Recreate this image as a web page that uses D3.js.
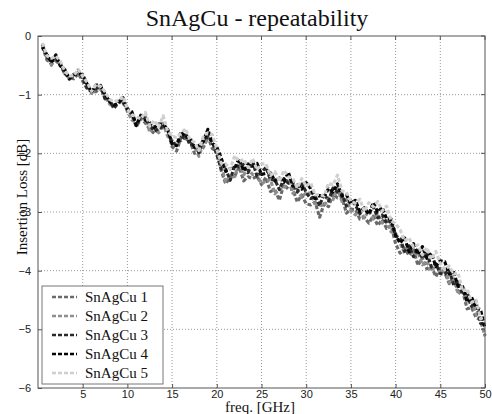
<!DOCTYPE html>
<html><head><meta charset="utf-8">
<script src="https://cdn.jsdelivr.net/npm/d3@7"></script>
<style>body{margin:0;background:#fff}</style>
</head><body><svg id="c" width="492" height="414"></svg>
<script>
const title = "SnAgCu - repeatability";
const xLabel = "freq. [GHz]";
const yLabel = "Insertion Loss [dB]";
const xTicks = [5,10,15,20,25,30,35,40,45,50];
const yTicks = [0,-1,-2,-3,-4,-5,-6];
const seriesNames = ["SnAgCu 1","SnAgCu 2","SnAgCu 3","SnAgCu 4","SnAgCu 5"];
const seriesColors = ["#6a6a6a","#8e8e8e","#2a2a2a","#050505","#cfcfcf"];
// frequency grid: 0.5 .. 50 GHz step 0.5
const freq = Array.from({length:100},(_,i)=> (i+1)*0.5);
const s1 = [-0.18,-0.41,-0.47,-0.43,-0.48,-0.65,-0.71,-0.73,-0.64,-0.77,
 -0.90,-0.95,-0.95,-0.87,-1.07,-1.10,-1.24,-1.11,-1.14,-1.26,
 -1.34,-1.55,-1.41,-1.48,-1.59,-1.66,-1.59,-1.56,-1.61,-1.89,
 -1.96,-1.73,-1.75,-1.78,-2.00,-1.97,-1.90,-1.72,-1.92,-1.96,
 -2.30,-2.52,-2.40,-2.39,-2.23,-2.47,-2.40,-2.43,-2.39,-2.53,
 -2.41,-2.65,-2.62,-2.80,-2.53,-2.61,-2.61,-2.83,-2.71,-2.86,
 -2.88,-2.83,-3.09,-2.86,-2.91,-2.69,-2.76,-2.75,-3.02,-2.95,
 -2.96,-3.12,-3.09,-3.19,-3.07,-3.23,-3.13,-3.28,-3.23,-3.54,
 -3.70,-3.62,-3.74,-3.64,-3.91,-3.78,-3.97,-3.93,-4.10,-3.96,
 -4.03,-4.22,-4.11,-4.36,-4.35,-4.65,-4.63,-4.80,-4.84,-5.10];
const s2 = [-0.20,-0.33,-0.50,-0.35,-0.51,-0.58,-0.74,-0.65,-0.66,-0.69,
 -0.84,-0.98,-0.88,-0.91,-1.03,-1.16,-1.20,-1.16,-1.06,-1.29,
 -1.43,-1.48,-1.44,-1.35,-1.64,-1.54,-1.65,-1.49,-1.71,-1.78,
 -1.86,-1.78,-1.66,-1.84,-1.88,-2.05,-1.83,-1.77,-1.80,-2.02,
 -2.22,-2.48,-2.40,-2.40,-2.16,-2.37,-2.27,-2.36,-2.36,-2.52,
 -2.47,-2.45,-2.69,-2.61,-2.61,-2.44,-2.68,-2.62,-2.75,-2.67,
 -2.68,-2.86,-2.88,-2.90,-2.76,-2.79,-2.60,-2.82,-2.79,-2.98,
 -3.05,-2.99,-3.10,-2.98,-3.12,-3.03,-3.19,-3.15,-3.34,-3.36,
 -3.53,-3.70,-3.57,-3.74,-3.69,-3.90,-3.84,-4.01,-3.90,-4.05,
 -3.97,-4.21,-4.14,-4.40,-4.30,-4.56,-4.50,-4.75,-4.84,-5.12];
const s3 = [-0.14,-0.36,-0.43,-0.39,-0.47,-0.64,-0.70,-0.70,-0.58,-0.72,
 -0.89,-0.94,-0.90,-0.84,-1.07,-1.09,-1.23,-1.12,-1.12,-1.23,
 -1.33,-1.53,-1.35,-1.41,-1.52,-1.62,-1.58,-1.54,-1.59,-1.84,
 -1.82,-1.77,-1.67,-1.86,-1.84,-1.99,-1.75,-1.73,-1.80,-2.02,
 -2.27,-2.27,-2.46,-2.20,-2.23,-2.19,-2.33,-2.14,-2.39,-2.32,
 -2.24,-2.45,-2.45,-2.62,-2.43,-2.51,-2.49,-2.66,-2.49,-2.67,
 -2.77,-2.73,-2.89,-2.69,-2.81,-2.59,-2.66,-2.69,-2.90,-2.80,
 -2.88,-3.03,-2.93,-3.03,-2.91,-3.10,-3.05,-3.19,-3.15,-3.41,
 -3.45,-3.67,-3.58,-3.76,-3.62,-3.79,-3.69,-3.94,-3.88,-4.05,
 -4.06,-3.99,-4.25,-4.19,-4.41,-4.37,-4.61,-4.52,-4.90,-4.91];
const s4 = [-0.19,-0.32,-0.45,-0.32,-0.51,-0.57,-0.73,-0.66,-0.64,-0.66,
 -0.82,-0.96,-0.83,-0.86,-0.99,-1.12,-1.18,-1.14,-1.05,-1.26,
 -1.29,-1.52,-1.36,-1.43,-1.48,-1.56,-1.50,-1.50,-1.59,-1.84,
 -1.87,-1.63,-1.72,-1.73,-1.90,-1.87,-1.80,-1.59,-1.83,-1.89,
 -2.08,-2.31,-2.26,-2.25,-2.09,-2.30,-2.18,-2.22,-2.17,-2.36,
 -2.34,-2.33,-2.47,-2.42,-2.49,-2.32,-2.56,-2.54,-2.61,-2.50,
 -2.60,-2.77,-2.72,-2.74,-2.60,-2.66,-2.52,-2.73,-2.71,-2.85,
 -2.80,-2.99,-2.93,-3.04,-2.84,-3.00,-2.92,-3.12,-3.12,-3.40,
 -3.53,-3.44,-3.68,-3.54,-3.72,-3.59,-3.79,-3.70,-3.93,-3.83,
 -3.85,-4.06,-4.03,-4.27,-4.27,-4.53,-4.45,-4.64,-4.66,-4.98];
const s5 = [-0.12,-0.34,-0.38,-0.34,-0.43,-0.60,-0.68,-0.68,-0.57,-0.69,
 -0.79,-0.94,-0.83,-0.86,-0.95,-1.08,-1.12,-1.10,-1.03,-1.25,
 -1.34,-1.38,-1.41,-1.30,-1.54,-1.44,-1.55,-1.36,-1.62,-1.71,
 -1.73,-1.66,-1.58,-1.77,-1.81,-1.95,-1.70,-1.65,-1.68,-1.93,
 -2.17,-2.18,-2.27,-2.04,-2.14,-2.10,-2.24,-2.09,-2.28,-2.18,
 -2.18,-2.38,-2.31,-2.48,-2.29,-2.40,-2.43,-2.59,-2.43,-2.56,
 -2.50,-2.71,-2.70,-2.73,-2.51,-2.54,-2.37,-2.64,-2.66,-2.82,
 -2.85,-2.78,-2.99,-2.84,-2.91,-2.82,-2.98,-2.90,-3.15,-3.20,
 -3.30,-3.49,-3.44,-3.60,-3.56,-3.73,-3.61,-3.80,-3.67,-3.88,
 -3.98,-3.92,-4.06,-4.04,-4.35,-4.31,-4.54,-4.50,-4.82,-4.79];
const seriesValues = [s1,s2,s3,s4,s5];

const svg = d3.select("#c");
const L=38, R=485, T=36, B=388;
const x = d3.scaleLinear().domain([0,50]).range([L,R]);
const y = d3.scaleLinear().domain([-6,0]).range([B,T]);

// grid
const g = svg.append("g");
g.selectAll(".gx").data(xTicks.filter(d=>d<50)).join("line")
  .attr("x1",d=>x(d)).attr("x2",d=>x(d)).attr("y1",T).attr("y2",B)
  .attr("stroke","#9a9a9a").attr("stroke-width",1).attr("stroke-dasharray","1,2");
g.selectAll(".gy").data(yTicks.filter(d=>d>-6&&d<0)).join("line")
  .attr("x1",L).attr("x2",R).attr("y1",d=>y(d)).attr("y2",d=>y(d))
  .attr("stroke","#9a9a9a").attr("stroke-width",1).attr("stroke-dasharray","1,2");

// series
const line = d3.line().x((d,i)=>x(freq[i])).y(d=>y(d));
seriesValues.forEach((vals,k)=>{
  svg.append("path").datum(vals).attr("d",line)
    .attr("fill","none").attr("stroke",seriesColors[k])
    .attr("stroke-width",3.1).attr("stroke-dasharray","4,2")
    .attr("stroke-linejoin","round");
});

// axes
const xAxis = d3.axisBottom(x).tickValues(xTicks).tickSize(-4).tickPadding(2).tickFormat(d3.format("d"));
const yAxis = d3.axisLeft(y).tickValues(yTicks).tickSize(-4).tickPadding(7).tickFormat(d=>d===0?"0":d3.format("d")(d));
const ax = svg.append("g").attr("transform",`translate(0,${B})`).call(xAxis);
const ay = svg.append("g").attr("transform",`translate(${L},0)`).call(yAxis);
[ax,ay].forEach(a=>{
  a.select(".domain").remove();
  a.selectAll("line").attr("stroke","#555");
  a.selectAll("text").attr("font-family","Liberation Sans, Arial, sans-serif").attr("font-size",11).attr("fill","#222");
});
// right/top ticks
svg.append("g").selectAll("line").data(yTicks).join("line")
  .attr("x1",R).attr("x2",R-4).attr("y1",d=>y(d)).attr("y2",d=>y(d)).attr("stroke","#555");
svg.append("g").selectAll("line").data(xTicks).join("line")
  .attr("x1",d=>x(d)).attr("x2",d=>x(d)).attr("y1",T).attr("y2",T+4).attr("stroke","#555");
svg.append("rect").attr("x",L).attr("y",T).attr("width",R-L).attr("height",B-T)
  .attr("fill","none").attr("stroke","#555").attr("stroke-width",1);

// title and labels
svg.append("text").attr("x",257).attr("y",26).attr("text-anchor","middle")
  .attr("font-family","Liberation Serif, Times New Roman, serif").attr("font-size",24).attr("fill","#111").text(title);
svg.append("text").attr("x",260).attr("y",411.5).attr("text-anchor","middle")
  .attr("font-family","Liberation Serif, Times New Roman, serif").attr("font-size",15).attr("fill","#111").text(xLabel);
svg.append("text").attr("transform","translate(27,197) rotate(-90)").attr("text-anchor","middle")
  .attr("font-family","Liberation Serif, Times New Roman, serif").attr("font-size",15).attr("fill","#111").text(yLabel);

// legend
const lg = svg.append("g");
lg.append("rect").attr("x",42).attr("y",286).attr("width",121).attr("height",98)
  .attr("fill","#fff").attr("stroke","#777").attr("stroke-width",1);
seriesNames.forEach((n,k)=>{
  const yy = 297 + k*19;
  lg.append("line").attr("x1",52).attr("x2",77).attr("y1",yy).attr("y2",yy)
    .attr("stroke",seriesColors[k]).attr("stroke-width",2.6).attr("stroke-dasharray","4,2");
  lg.append("text").attr("x",85).attr("y",yy+5).attr("font-family","Liberation Serif, Times New Roman, serif")
    .attr("font-size",15).attr("fill","#111").text(n);
});
</script></body></html>
